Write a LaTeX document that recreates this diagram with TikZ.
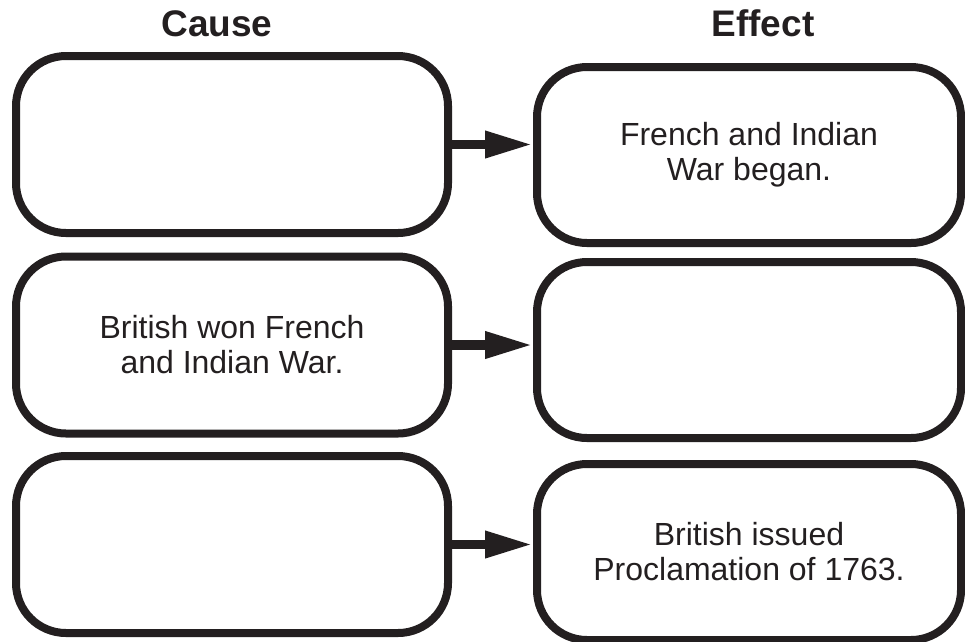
\documentclass[tikz,border=0pt]{standalone}
\usepackage{fontspec}
\setmainfont{Liberation Sans}
\usepackage{tikz}
\usetikzlibrary{arrows.meta, positioning}
\definecolor{inkblack}{HTML}{231F20}

\begin{document}
\begin{tikzpicture}[x=1pt, y=-1pt,
      cbox/.style={draw=inkblack, line width=8pt, rounded corners=50pt,
                   minimum width=432pt, minimum height=177pt, inner sep=0pt,
                   font=\fontsize{32}{35}\selectfont, text=inkblack, align=center},
      ebox/.style={cbox, minimum width=424pt, minimum height=176pt},
      head/.style={font=\fontsize{37}{40}\selectfont\bfseries, text=inkblack, anchor=base},
      arrow/.style={-{Triangle[length=48pt, width=25pt]}, line width=9.5pt, inkblack}
    ]
    \useasboundingbox (0,0) rectangle (965,641);
    \node[head] (cause)  at (217,36) {Cause};
    \node[head] (effect) at (763,36) {Effect};
    \node[cbox] (c1) at (232,144.5) {};
    \node[cbox] (c2) at (232,345) {British won French\\and Indian War.};
    \node[cbox] (c3) at (232,544.5) {};
    \node[ebox] (e1) at (749,155) {French and Indian\\War began.};
    \node[ebox] (e2) at (749,350) {};
    \node[ebox] (e3) at (749,552) {British issued\\Proclamation of 1763.};
    \draw[arrow] (c1.east) -- (c1.east -| e1.west);
    \draw[arrow] (c2.east) -- (c2.east -| e2.west);
    \draw[arrow] (c3.east) -- (c3.east -| e3.west);
  \end{tikzpicture}
\end{document}
